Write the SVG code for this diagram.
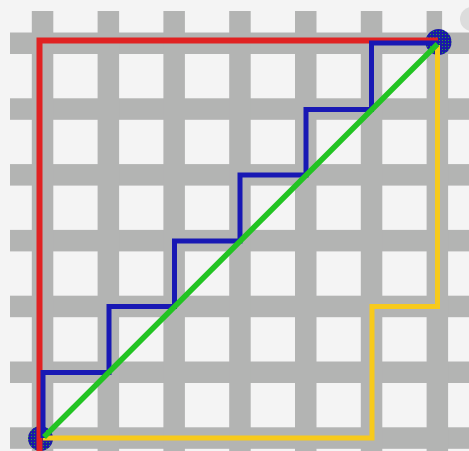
<svg xmlns="http://www.w3.org/2000/svg" width="469" height="451" viewBox="0 0 469 451">
  <style>
    .bar { fill: #b3b4b3; }
    .route { fill: none; stroke-linejoin: miter; stroke-linecap: butt; }
    .red { stroke: #e02222; stroke-width: 6; }
    .blue { stroke: #1818b4; stroke-width: 5; }
    .yellow { stroke: #f7ca1c; stroke-width: 5; }
    .green { stroke: #22c422; stroke-width: 5.5; }
    .end { fill: url(#dither); }
  </style>
  <defs>
    <pattern id="dither" width="3" height="3" patternUnits="userSpaceOnUse">
      <rect width="3" height="3" fill="#1a1aa8"/>
      <rect x="1" y="1" width="1" height="1" fill="#2aa82a"/>
    </pattern>
  </defs>
  <rect width="469" height="451" fill="#f4f4f4"/>
  <circle cx="472" cy="19" r="12" fill="#dcdcdc"/>
  <g id="grid">
    <!-- horizontal bars -->
    <rect class="bar" x="10" y="32.5" width="459" height="21.5"/>
    <rect class="bar" x="10" y="98.3" width="459" height="21.5"/>
    <rect class="bar" x="10" y="164.1" width="459" height="21.5"/>
    <rect class="bar" x="10" y="229.9" width="459" height="21.5"/>
    <rect class="bar" x="10" y="295.7" width="459" height="21.5"/>
    <rect class="bar" x="10" y="361.5" width="459" height="21.5"/>
    <rect class="bar" x="10" y="427.3" width="459" height="21.5"/>
    <!-- vertical bars -->
    <rect class="bar" x="31.8" y="11" width="21.5" height="440"/>
    <rect class="bar" x="97.6" y="11" width="21.5" height="440"/>
    <rect class="bar" x="163.4" y="11" width="21.5" height="440"/>
    <rect class="bar" x="229.2" y="11" width="21.5" height="440"/>
    <rect class="bar" x="295" y="11" width="21.5" height="440"/>
    <rect class="bar" x="360.8" y="11" width="21.5" height="440"/>
    <rect class="bar" x="426.6" y="11" width="15.5" height="22"/>
    <rect class="bar" x="426.6" y="33" width="21.5" height="418"/>
  </g>
  <g id="start">
    <circle class="end" cx="40.5" cy="438.5" r="12.5"/>
  </g>
  <g id="end">
    <circle class="end" cx="438.5" cy="42" r="13"/>
  </g>
  <g id="connectors">
    <path class="route red" d="M39.5 451 V40.5 H438"/>
    <path class="route yellow" d="M43 438 H372 V306.5 H437.5 V45"/>
    <path class="route blue" d="M43 438 V372.5 H109 V306.5 H174.5 V241 H240 V175 H306 V109.5 H371.5 V43 H438"/>
    <path class="route green" d="M44 437 L437.5 44"/>
  </g>
</svg>
